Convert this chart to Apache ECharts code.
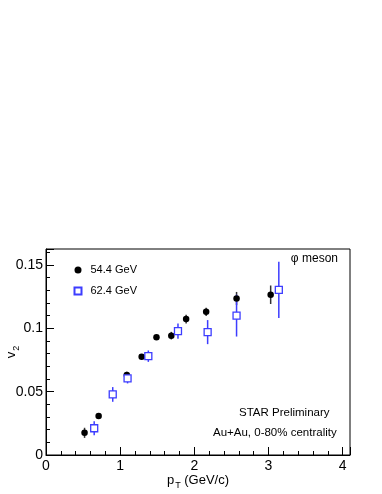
<!DOCTYPE html>
<html>
<head>
<meta charset="utf-8">
<script src="https://cdn.jsdelivr.net/npm/echarts@6/dist/echarts.min.js"></script>
<style>
  html, body { margin: 0; padding: 0; background: #fff; }
  #chart { width: 382px; height: 494px; }
</style>
</head>
<body>
<div id="chart"></div>
<script>
// 54.4 GeV (black dots)
const pt54 = [0.52, 0.71, 0.90, 1.09, 1.29, 1.49, 1.69, 1.89, 2.16, 2.57, 3.03]
const v2_54 = [0.0175, 0.0308, 0.0478, 0.0632, 0.0776, 0.0930, 0.0942, 0.1073, 0.1130, 0.1235, 0.1265]
const err54 = [0.0040, 0.0020, 0.0030, 0.0025, 0.0015, 0.0015, 0.0030, 0.0035, 0.0032, 0.0052, 0.0073]

// 62.4 GeV (open blue squares)
const pt62 = [0.65, 0.90, 1.10, 1.38, 1.78, 2.18, 2.57, 3.14]
const v2_62 = [0.0211, 0.0478, 0.0605, 0.0780, 0.0978, 0.0970, 0.1100, 0.1303]
const err62 = [0.0055, 0.0058, 0.0040, 0.0045, 0.0060, 0.0095, 0.0165, 0.0222]

const xTicks = [0, 1, 2, 3, 4]
const yTicks = [0, 0.05, 0.1, 0.15]

const font = 'Liberation Sans'
const blue = '#3d3dff'

const chart = echarts.init(document.getElementById('chart'), null, { renderer: 'canvas' })

const pts = (xs, ys, es) => xs.map((x, i) => [x, ys[i], es[i]])

// vertical error bars
const errBars = (color) => (params, api) => {
  const x = api.value(0), y = api.value(1), e = api.value(2)
  const lo = api.coord([x, y - e])
  const hi = api.coord([x, y + e])
  return {
    type: 'line',
    shape: { x1: lo[0], y1: lo[1], x2: hi[0], y2: hi[1] },
    style: { stroke: color, lineWidth: 1.5 }
  }
}

const axisCommon = {
  axisLine: { show: true, lineStyle: { color: '#000', width: 1 } },
  axisTick: { show: true, inside: true, length: 8, lineStyle: { color: '#000' } },
  minorTick: { show: true, splitNumber: 5, length: 4, lineStyle: { color: '#000' } },
  splitLine: { show: false },
  axisLabel: {
    color: '#000', fontFamily: font, fontSize: 14,
    showMaxLabel: false
  },
  nameMoveOverlap: false
}

const subRich = {
  m: { fontFamily: font, fontSize: 13, color: '#000' },
  s: { fontFamily: font, fontSize: 9, color: '#000', padding: [10, 0, 0, 1] }
}

const option = {
  backgroundColor: '#fff',
  animation: false,
  grid: {
    left: 46, right: 32, top: 249, bottom: 39,
    containLabel: false, outerBoundsMode: 'none',
    show: true, borderColor: '#000', borderWidth: 1
  },
  legend: {
    orient: 'vertical',
    left: 73.5, top: 264.5, padding: 0,
    itemWidth: 7, itemHeight: 7,
    itemGap: 10,
    data: ['54.4 GeV', '62.4 GeV'],
    textStyle: { color: '#000', fontFamily: font, fontSize: 11, padding: [0, 0, 0, 4] }
  },
  xAxis: {
    type: 'value', min: 0, max: 4.1, interval: 1,
    ...axisCommon,
    axisLabel: { ...axisCommon.axisLabel, margin: 4,
      formatter: v => (xTicks.includes(v) ? String(v) : '') },
    name: '{m|p}{s|T}{m| (GeV/c)}',
    nameLocation: 'middle', nameGap: 16,
    nameTextStyle: { rich: subRich }
  },
  yAxis: {
    type: 'value', min: 0, max: 0.1626, interval: 0.05,
    ...axisCommon,
    axisLabel: { ...axisCommon.axisLabel, margin: 3,
      formatter: v => (yTicks.includes(+v.toFixed(3)) ? String(+v.toFixed(3)) : '') },
    name: '{m|v}{s|2}',
    nameLocation: 'middle', nameGap: 25,
    nameTextStyle: { rich: subRich }
  },
  graphic: [
    { type: 'text', right: 44, top: 253,
      style: { text: 'φ meson', fill: '#000', font: '12px "Liberation Sans"' } },
    { type: 'text', left: 239, top: 407,
      style: { text: 'STAR Preliminary', fill: '#000', font: '11.5px "Liberation Sans"' } },
    { type: 'text', left: 213, top: 427,
      style: { text: 'Au+Au, 0-80% centrality', fill: '#000', font: '11.5px "Liberation Sans"' } }
  ],
  series: [
    {
      type: 'custom', name: 'err54', silent: true,
      renderItem: errBars('#333'),
      data: pts(pt54, v2_54, err54), z: 2
    },
    {
      type: 'custom', name: 'err62', silent: true,
      renderItem: errBars(blue),
      data: pts(pt62, v2_62, err62), z: 2
    },
    {
      name: '54.4 GeV', type: 'scatter',
      symbol: 'circle', symbolSize: 6.5,
      itemStyle: { color: '#000', opacity: 1 },
      data: pts(pt54, v2_54, err54), z: 3
    },
    {
      name: '62.4 GeV', type: 'scatter',
      symbol: 'rect', symbolSize: 7,
      itemStyle: { color: '#fff', borderColor: blue, borderWidth: 1.3, opacity: 1 },
      data: pts(pt62, v2_62, err62), z: 4
    }
  ]
}

chart.setOption(option)
</script>
</body>
</html>
